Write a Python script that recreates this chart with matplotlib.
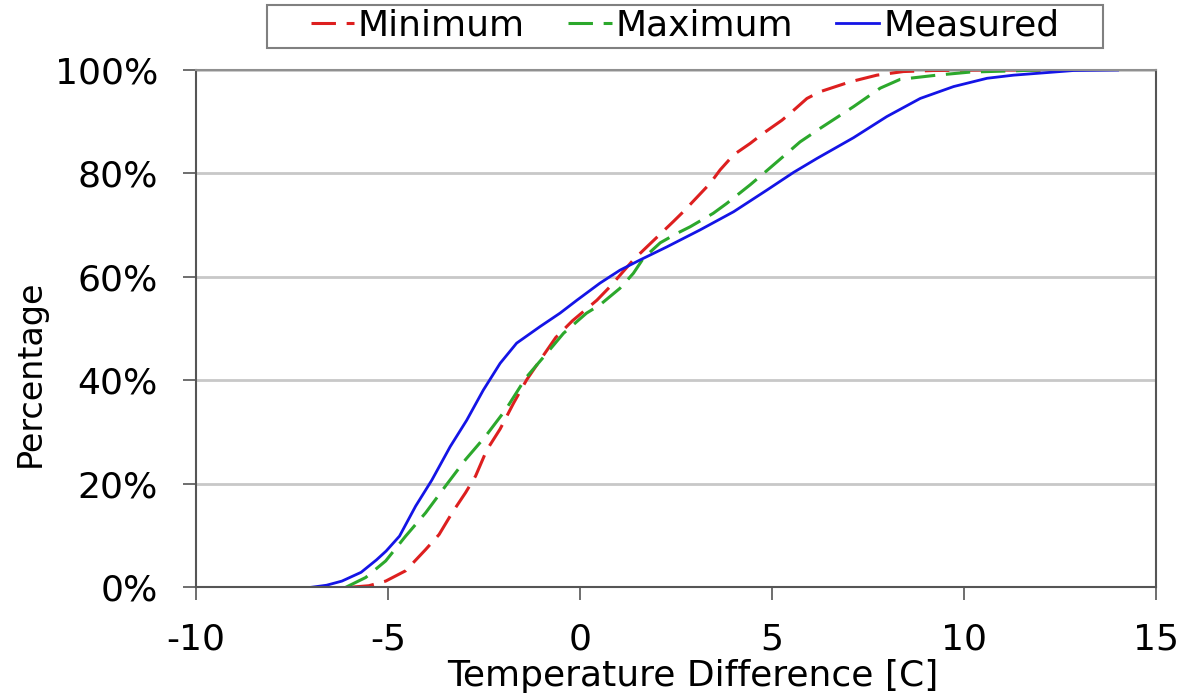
import matplotlib
matplotlib.use("Agg")
import matplotlib.pyplot as plt
from matplotlib.patches import Rectangle
from matplotlib.ticker import PercentFormatter

# cumulative distribution of temperature difference, in percent
min_x = [-6.0, -5.5, -5.06, -4.54, -4.02, -3.67, -3.33, -2.98, -2.72, -2.43, -2.08,
         -1.73, -1.39, -1.04, -0.63, -0.2, 0.44, 0.78, 1.39, 1.74, 2.43, 2.69, 3.39,
         3.65, 4.0, 4.43, 4.78, 5.26, 5.47, 5.91, 6.25, 7.03, 7.73, 8.42, 9.2, 10.5, 12.0]
min_y = [0, 0.3, 1.2, 3.2, 7.3, 10.2, 14.4, 18.3, 21.5, 26.5, 30.6,
         35.6, 40.1, 43.9, 48.3, 51.5, 55.5, 58.1, 63.3, 65.8, 70.7, 72.6, 78.1,
         80.7, 83.6, 85.8, 87.8, 90.3, 91.6, 94.5, 95.8, 97.7, 99.0, 99.7, 99.9, 100, 100]

max_x = [-6.1, -5.58, -5.06, -4.54, -4.02, -3.5, -2.98, -2.46, -1.93, -1.41, -0.87,
         -0.43, 0.17, 0.52, 1.04, 1.39, 1.65, 2.09, 2.52, 2.87, 3.47, 3.82, 4.43,
         4.78, 5.39, 5.73, 6.25, 7.12, 7.82, 8.34, 9.29, 10.16, 11.12, 11.98]
max_y = [0, 1.9, 5.1, 9.9, 14.4, 19.6, 24.7, 29.2, 34.4, 40.5, 45.2,
         49.1, 53.0, 54.6, 57.8, 60.7, 63.6, 66.6, 68.4, 69.7, 72.3, 74.2, 77.8,
         80.0, 83.9, 86.1, 88.7, 92.9, 96.5, 98.2, 99.0, 99.6, 99.8, 100]

meas_x = [-7.0, -6.6, -6.2, -5.7, -5.3, -5.05, -4.7, -4.28, -3.86, -3.38, -2.95,
          -2.52, -2.08, -1.65, -1.04, -0.52, -0.08, 0.52, 1.04, 1.57, 2.26, 3.13,
          4.0, 4.87, 5.56, 6.17, 7.12, 7.99, 8.86, 9.73, 10.6, 11.29, 12.16, 12.85, 14.0]
meas_y = [0, 0.4, 1.2, 2.9, 5.3, 7.0, 9.9, 15.7, 20.7, 27.2, 32.3,
          38.1, 43.3, 47.2, 50.4, 53.0, 55.5, 58.8, 61.3, 63.3, 65.8, 69.1,
          72.6, 76.8, 80.2, 82.9, 86.9, 91.0, 94.5, 96.8, 98.4, 99.0, 99.5, 99.9, 100]

x_ticks = [-10, -5, 0, 5, 10, 15]
y_ticks = [0, 20, 40, 60, 80, 100]

plt.rcParams['font.family'] = ['DejaVu Sans']
plt.rcParams['axes.unicode_minus'] = False
fs = 26

W, H = 1185, 696
fig = plt.figure(figsize=(W / 100, H / 100), dpi=100)
ax = fig.add_axes([196 / W, 1 - 587.3 / H, 960 / W, 517.3 / H])

ax.plot(min_x, min_y, color='#dd1f1f', lw=2.2, dashes=(8, 3.5), label='Minimum')
ax.plot(max_x, max_y, color='#2ca82c', lw=2.2, dashes=(8, 3.5), label='Maximum')
ax.plot(meas_x, meas_y, color='#1414e6', lw=2.0, label='Measured')

ax.set_xlim(-10, 15)
ax.set_ylim(0, 100)
ax.set_xticks(x_ticks)
ax.set_yticks(y_ticks)
ax.yaxis.set_major_formatter(PercentFormatter(decimals=0))
ax.grid(axis='y', color='#c8c8c8', lw=2)
ax.set_axisbelow(True)
for s in ax.spines.values():
    s.set_color('#555555')
    s.set_linewidth(1.5)
ax.spines['top'].set_color('#909090')

ax.tick_params(axis='both', direction='out', length=9.4, width=1.2, color='#555555',
               labelsize=fs)
ax.tick_params(axis='x', pad=16)
ax.tick_params(axis='y', pad=18)

ax.set_xlabel('Temperature Difference [C]', fontsize=fs)
ax.xaxis.set_label_coords(0.518, -0.172)
ax.xaxis.label.set_va('center')
ax.set_ylabel('Percentage', fontsize=24)
ax.yaxis.set_label_coords(-0.173, 0.414)
ax.yaxis.label.set_va('center')

leg = fig.legend(loc='center', bbox_to_anchor=(685 / W, 1 - 26 / H), ncol=3,
                 fontsize=fs, frameon=False, handlelength=1.2,
                 handletextpad=0.1, columnspacing=1.2, borderpad=0.15)
# legend box, a little wider than the entries
fig.patches.append(Rectangle((267 / W, 1 - 48 / H), 836 / W, 43 / H,
                             transform=fig.transFigure, fill=False,
                             ec='#808080', lw=1.5))

fig.savefig('out.png', dpi=100)
